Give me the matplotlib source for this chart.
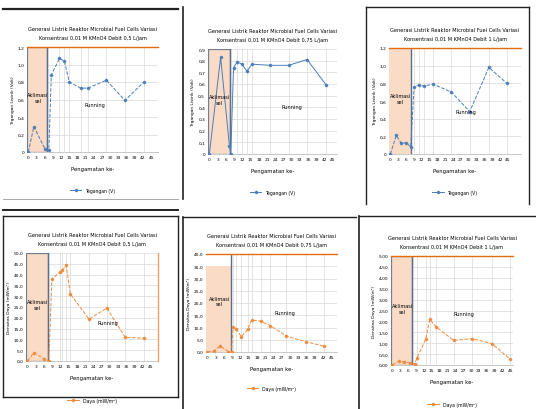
import matplotlib
matplotlib.use("Agg")
import matplotlib.pyplot as plt
from matplotlib.patches import Rectangle
from matplotlib.lines import Line2D

# ---------------- data ----------------
x_ticks = [0, 3, 6, 9, 12, 15, 18, 21, 24, 27, 30, 33, 36, 39, 42, 45]

titles = [
    "Generasi Listrik Reaktor Microbial Fuel Cells Variasi\nKonsentrasi 0,01 M KMnO4 Debit 0,5 L/jam",
    "Generasi Listrik Reaktor Microbial Fuel Cells Variasi\nKonsentrasi 0,01 M KMnO4 Debit 0,75 L/jam",
    "Generasi Listrik Reaktor Microbial Fuel Cells Variasi\nKonsentrasi 0,01 M KMnO4 Debit 1 L/jam",
    "Generasi Listrik Reaktor Microbial Fuel Cells Variasi\nKonsentrasi 0,01 M KMnO4 Debit 0,5 L/jam",
    "Generasi Listrik Reaktor Microbial Fuel Cells Variasi\nKonsentrasi 0,01 M KMnO4 Debit 0,75 L/jam",
    "Generasi Listrik Reaktor Microbial Fuel Cells Variasi\nKonsentrasi 0,01 M KMnO4 Debit 1 L/jam",
]

# Panel 1: voltage
x1 = [0, 2, 6, 7.5, 8.4, 11.4, 13.2, 15, 19.2, 21.8, 28.6, 35.4, 42.3]
y1 = [0, 0.29, 0.04, 0.02, 0.88, 1.07, 1.04, 0.80, 0.73, 0.73, 0.82, 0.59, 0.80]
# Panel 2: voltage
x2 = [0, 4.1, 7.3, 7.8, 8.8, 10.2, 11.8, 13.7, 15.5, 22.2, 28.9, 35.6, 42.6]
y2 = [0, 0.83, 0.07, 0, 0.74, 0.79, 0.77, 0.71, 0.77, 0.76, 0.76, 0.81, 0.59]
# Panel 3: voltage
x3 = [0, 2.3, 4.2, 6.1, 7.8, 9.1, 10.8, 12.7, 16.5, 23.4, 30.4, 37.7, 44.6]
y3 = [0, 0.21, 0.12, 0.13, 0.08, 0.76, 0.78, 0.77, 0.79, 0.70, 0.48, 0.98, 0.80]
# Panel 4: power density
x4 = [0, 2.4, 6.2, 7.8, 8.9, 11.8, 12.7, 14.1, 15.6, 22.4, 28.9, 35.6, 42.4]
y4 = [0, 3.9, 0.8, 0, 38.0, 41.1, 41.9, 44.3, 31.1, 19.4, 24.5, 10.9, 10.6]
# Panel 5: power density
x5 = [0, 2.3, 4.7, 7.6, 8.8, 9.3, 10.5, 12.3, 14.6, 16.0, 19.3, 22.8, 28.6, 35.6, 42.3]
y5 = [0, 0.5, 2.4, 0.2, 0, 10.3, 9.5, 6.2, 9.2, 13.0, 12.6, 10.8, 6.5, 4.2, 2.4]
# Panel 6: power density
x6 = [0, 2.5, 4.4, 6.7, 8.5, 9.5, 12.7, 14.3, 16.8, 23.4, 30.4, 38.0, 45.0]
y6 = [0, 0.18, 0.14, 0.11, 0.06, 0.34, 1.18, 2.09, 1.74, 1.13, 1.21, 0.98, 0.26]

xs = [x1, x2, x3, x4, x5, x6]
ys = [y1, y2, y3, y4, y5, y6]
ylims = [(0, 1.2, 0.2), (0, 0.9, 0.1), (0, 1.2, 0.2), (0, 50, 5), (0, 40, 5), (0, 5, 0.5)]
ydec = [1, 1, 1, 1, 1, 2]
acclim_end = [7, 7.6, 7.8, 7.5, 8.5, 7.6]
xmax = [47.5, 46.5, 50, 47.5, 47, 46]
ylabels = ["Tegangan Listrik (Volt)"] * 3 + ["Densitas Daya (mW/m²)"] * 3
legend_labels = ["Tegangan (V)"] * 3 + ["Daya (mW/m²)"] * 3
run_pos = [(0.52, 0.45), (0.65, 0.45), (0.58, 0.40), (0.62, 0.36), (0.60, 0.40), (0.60, 0.47)]

# styling per panel: top orange line, shade box edge, shade box top fraction, right orange line
top_orange = [True, False, True, False, True, True]
box_edge = [True, True, False, True, False, True]
box_top = [1.0, 1.0, 1.0, 1.0, 0.88, 1.0]
right_orange = [False, False, False, True, False, False]

# ---------------- layout ----------------
W, H = 536, 410
fig = plt.figure(figsize=(W / 100, H / 100), dpi=100)

def fr(x0, y0, x1_, y1_):
    return [x0 / W, 1 - y1_ / H, (x1_ - x0) / W, (y1_ - y0) / H]

axes_px = [(27, 48, 158, 153), (208, 50, 337, 155), (389, 49, 521, 155),
           (26, 254, 158, 362), (206, 255, 337, 353), (391, 257, 513, 366)]

blue = "#4a7ebb"
orange = "#f08a3c"
shade = "#fadbc6"
grid = "#d9d9d9"

for i in range(6):
    ax = fig.add_axes(fr(*axes_px[i]))
    col = blue if i < 3 else orange
    lo, hi, st = ylims[i]
    ax.set_ylim(lo, hi)
    ax.set_xlim(-0.5, xmax[i])
    nt = int(round((hi - lo) / st)) + 1
    yt = [lo + k * st for k in range(nt)]
    ax.set_yticks(yt)
    ax.set_yticklabels([(f"{v:.{ydec[i]}f}" if (v != 0 or i >= 3) else "0").replace(".", ",") for v in yt],
                       fontsize=3.2)
    ax.set_xticks(x_ticks)
    ax.set_xticklabels([str(t) for t in x_ticks], fontsize=3.2)
    ax.tick_params(length=0, pad=2)
    for s in ax.spines.values():
        s.set_visible(False)
    ax.spines["bottom"].set_visible(True)
    ax.spines["bottom"].set_color("#bfbfbf")
    ax.spines["bottom"].set_linewidth(0.6)
    for v in yt:
        ax.axhline(v, color=grid, lw=0.5, zorder=0)
    for v in xs[i][5:]:
        ax.axvline(v, color=grid, lw=0.5, zorder=0)
    ax.add_patch(Rectangle((-0.5, lo), acclim_end[i] + 0.5, (hi - lo) * box_top[i],
                           facecolor=shade, edgecolor="#6f7f95" if box_edge[i] else "none",
                           lw=0.9, zorder=0.5))
    ax.axvline(acclim_end[i], color="#5a6f8c", lw=1.0, zorder=1)
    if top_orange[i]:
        ax.axhline(hi, color="#e46c0a", lw=1.0, zorder=1, clip_on=False)
    if right_orange[i]:
        ax.axvline(xmax[i], color="#f5a060", lw=1.0, zorder=1, clip_on=False)
    ls = "-" if i == 1 else "--"
    ax.plot(xs[i], ys[i], color=col, lw=0.7, ls=ls, marker="D", ms=1.3, zorder=3)
    ax.text(acclim_end[i] / 2, hi * 0.52, "Aklimasi\nsel", fontsize=3.6, ha="center", va="center")
    ax.text(run_pos[i][0], run_pos[i][1], "Running", fontsize=3.6, ha="center", va="center",
            transform=ax.transAxes)
    ax.set_title(titles[i], fontsize=3.6, pad=6, linespacing=1.8)
    ax.set_ylabel(ylabels[i], fontsize=3.2, labelpad=2)
    ax.set_xlabel("Pengamatan ke-", fontsize=3.8, labelpad=5)
    h = Line2D([], [], color=col, lw=0.7, marker="D", ms=1.3)
    ax.legend([h], [legend_labels[i]], loc="upper center", bbox_to_anchor=(0.5, -0.30),
              fontsize=3.3, frameon=False, handlelength=2.5)

# frames of the pasted charts
def hline(x0, x1_, y, lw=1.2, c="#222222"):
    fig.add_artist(Line2D([x0 / W, x1_ / W], [1 - y / H, 1 - y / H], color=c, lw=lw))

def vline(x, y0, y1_, lw=1.2, c="#222222"):
    fig.add_artist(Line2D([x / W, x / W], [1 - y0 / H, 1 - y1_ / H], color=c, lw=lw))

hline(3, 178, 10, lw=1.6)
hline(3, 178, 200, lw=0.6, c="#999999")
vline(183, 8, 200, lw=1.2)
vline(366, 8, 205, lw=1.0)
hline(366, 529, 8, lw=1.0)
vline(529, 8, 205, lw=1.0)
hline(3, 178, 211, lw=1.4)
hline(3, 178, 217, lw=1.0)
vline(3, 217, 398, lw=1.0)
vline(178, 217, 398, lw=1.0)
hline(3, 178, 398, lw=1.0)
vline(183, 218, 410, lw=1.2)
hline(183, 356, 218, lw=1.0)
vline(359, 217, 410, lw=1.2)
hline(359, 536, 217, lw=1.0)

fig.savefig("out.png", dpi=100)
